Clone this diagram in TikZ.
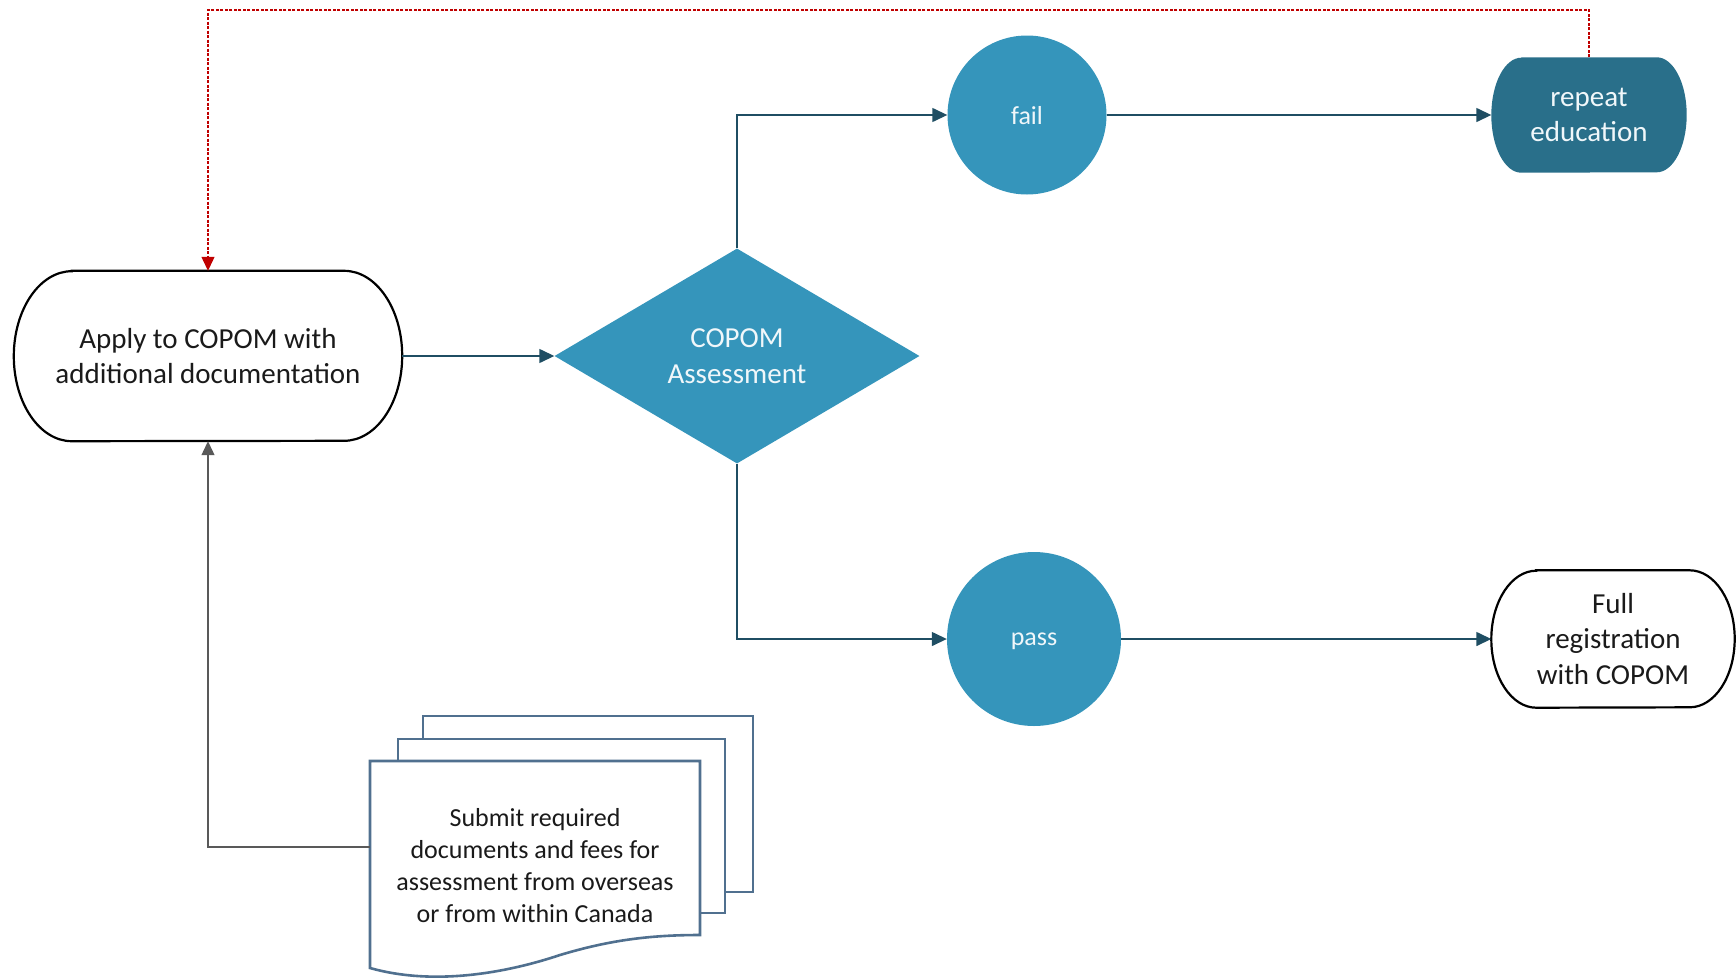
\documentclass[tikz,border=0pt]{standalone}
\usepackage{fontspec}
\setmainfont{Carlito}
\usetikzlibrary{arrows.meta,shapes.geometric,backgrounds}
\definecolor{teal1}{HTML}{3595BB}
\definecolor{teal2}{HTML}{296F8A}
\definecolor{conn}{HTML}{1F4E63}
\definecolor{docline}{HTML}{50708F}
\definecolor{redline}{HTML}{C00000}
\definecolor{greyline}{HTML}{595959}
\definecolor{txt}{HTML}{1A1A1A}
\definecolor{wtxt}{HTML}{F0F7FA}
\tikzset{
  bigtext/.style={font=\fontsize{29}{35.5}\selectfont, align=center},
  smalltext/.style={font=\fontsize{26}{32}\selectfont, align=center},
  boxarea/.style={rectangle, inner sep=0pt, text=txt},
  circ/.style={circle, fill=teal1, draw=none, text=wtxt, inner sep=0pt, smalltext, text depth=0pt},
  link/.style={draw=conn, line width=1.4pt, -{Triangle[length=15pt,width=14pt]}},
  greylink/.style={draw=greyline, line width=1.2pt, -{Triangle[length=14pt,width=13pt]}},
  redlink/.style={draw=redline, line width=1.2pt, dash pattern=on 3pt off 1.5pt, -{Triangle[length=14pt,width=13pt]}},
  sheet/.style={draw=docline, line width=2.6pt, fill=white, line join=miter},
}
\begin{document}
\begin{tikzpicture}[x=1pt,y=-1pt]
\useasboundingbox (0,0) rectangle (1736,977);

% Apply node
\node[boxarea, bigtext, minimum width=388pt, minimum height=170pt] (apply) at (208,356) {Apply to COPOM with\\additional documentation};
\draw[line width=2.2pt, black] ([xshift=58pt]apply.north west) -- ([xshift=-58pt]apply.north east)
  arc[start angle=90,end angle=-90,x radius=58pt,y radius=85pt]
  -- ([xshift=58pt]apply.south west)
  arc[start angle=270,end angle=90,x radius=58pt,y radius=85pt] -- cycle;

% Assessment diamond
\node[diamond, fill=teal1, text=wtxt, bigtext, minimum width=365pt, minimum height=215pt, inner sep=0pt, shape aspect=1.7] (assess) at (737,356) {COPOM\\Assessment};

% circles
\node[circ, minimum size=159pt] (fail) at (1027,115) {fail};
\node[circ, minimum size=174pt] (pass) at (1034,639) {pass};

% repeat education
\node[boxarea, bigtext, text=wtxt, minimum width=195pt, minimum height=115pt] (repeat) at (1589,115) {repeat\\education};
\begin{scope}[on background layer]
\fill[teal2] ([xshift=30pt]repeat.north west) -- ([xshift=-30pt]repeat.north east)
  arc[start angle=90,end angle=-90,x radius=30pt,y radius=57.5pt]
  -- ([xshift=30pt]repeat.south west)
  arc[start angle=270,end angle=90,x radius=30pt,y radius=57.5pt] -- cycle;
\end{scope}

% full registration
\node[boxarea, bigtext, minimum width=243pt, minimum height=137pt] (full) at (1613,639) {Full\\registration\\with COPOM};
\draw[line width=2.2pt, black] ([xshift=45pt]full.north west) -- ([xshift=-45pt]full.north east)
  arc[start angle=90,end angle=-90,x radius=45pt,y radius=68.5pt]
  -- ([xshift=45pt]full.south west)
  arc[start angle=270,end angle=90,x radius=45pt,y radius=68.5pt] -- cycle;

% documents
\draw[sheet] (423,716) rectangle (753,892);
\draw[sheet] (398,739) rectangle (725,913);
\draw[sheet] (370,761) -- (700,761) -- (700,935)
  .. controls (650,935) and (610,940) .. (560,955)
  .. controls (500,975) and (430,985) .. (370,968) -- cycle;
\node[boxarea, smalltext] (docs) at (535,866) {Submit required\\documents and fees for\\assessment from overseas\\or from within Canada};
\coordinate (docin) at (370,847);

% connectors
\draw[link] (apply.east) -- (assess.west);
\draw[link] (assess.north) |- (fail.west);
\draw[link] (assess.south) |- (pass.west);
\draw[link] (fail.east) -- (repeat.west);
\draw[link] (pass.east) -- (full.west);
\draw[greylink] (docin) -| (apply.south);
\coordinate (topline) at (0,10);
\draw[redlink] (repeat.north) |- (topline -| apply.north) -- (apply.north);
\end{tikzpicture}
\end{document}
